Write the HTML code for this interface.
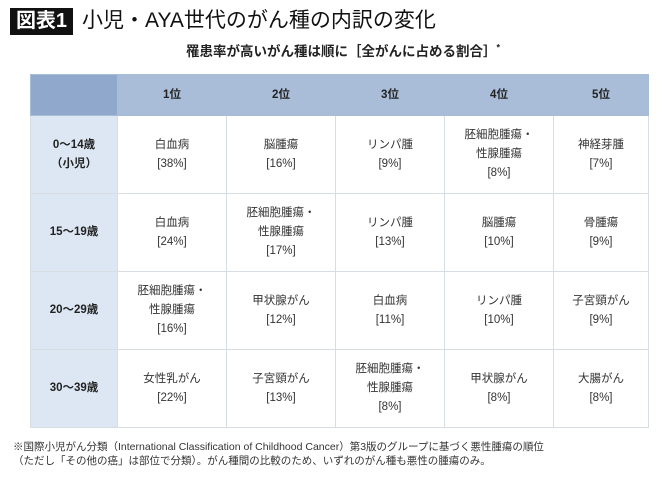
<!DOCTYPE html>
<html><head><meta charset="utf-8"><style>
body{margin:0;width:670px;height:483px;background:#fff;font-family:"Liberation Sans","Noto Sans CJK JP",sans-serif;color:#222;position:relative;overflow:hidden}
.tb{position:absolute;left:10px;top:8px;width:63px;height:27px;background:#111;color:#fff;font-size:20px;line-height:27px;text-align:center;font-weight:bold}
.tt{position:absolute;left:82px;top:6px;font-size:21px;line-height:30px;color:#111}
.sub{position:absolute;left:8px;width:670px;top:40px;text-align:center;font-size:13.5px;font-weight:bold;color:#222}
table{position:absolute;left:30px;top:74px;border-collapse:collapse;font-size:11.5px;color:#333}
td{border:1px solid #d8dde4;text-align:center;vertical-align:middle;line-height:19px;padding:0}
tr.h td{background:#a9bdd8;height:40px;font-weight:bold;border-color:#a9bdd8;color:#222}
tr.h td.c0{background:#8fa8cb}
td.c0{background:#dde7f3;font-weight:bold;width:86px;color:#222}
tr.r td{height:77px}
.fn{position:absolute;left:13px;top:440px;font-size:10.5px;line-height:14px;color:#333}
</style></head><body>
<div class="tb">図表1</div>
<div class="tt">小児・AYA世代のがん種の内訳の変化</div>
<div class="sub">罹患率が高いがん種は順に［全がんに占める割合］<sup style="font-size:9px">*</sup></div>
<table>
<tr class="h"><td class="c0"></td><td style="width:108px">1位</td><td style="width:108px">2位</td><td style="width:108px">3位</td><td style="width:108px">4位</td><td style="width:94px">5位</td></tr>
<tr class="r"><td class="c0">0〜14歳<br>（小児）</td><td>白血病<br>[38%]</td><td>脳腫瘍<br>[16%]</td><td>リンパ腫<br>[9%]</td><td>胚細胞腫瘍・<br>性腺腫瘍<br>[8%]</td><td>神経芽腫<br>[7%]</td></tr>
<tr class="r"><td class="c0">15〜19歳</td><td>白血病<br>[24%]</td><td>胚細胞腫瘍・<br>性腺腫瘍<br>[17%]</td><td>リンパ腫<br>[13%]</td><td>脳腫瘍<br>[10%]</td><td>骨腫瘍<br>[9%]</td></tr>
<tr class="r"><td class="c0">20〜29歳</td><td>胚細胞腫瘍・<br>性腺腫瘍<br>[16%]</td><td>甲状腺がん<br>[12%]</td><td>白血病<br>[11%]</td><td>リンパ腫<br>[10%]</td><td>子宮頸がん<br>[9%]</td></tr>
<tr class="r"><td class="c0">30〜39歳</td><td>女性乳がん<br>[22%]</td><td>子宮頸がん<br>[13%]</td><td>胚細胞腫瘍・<br>性腺腫瘍<br>[8%]</td><td>甲状腺がん<br>[8%]</td><td>大腸がん<br>[8%]</td></tr>
</table>
<div class="fn">※国際小児がん分類（International Classification of Childhood Cancer）第3版のグループに基づく悪性腫瘍の順位<br>（ただし「その他の癌」は部位で分類）。がん種間の比較のため、いずれのがん種も悪性の腫瘍のみ。</div>
</body></html>
